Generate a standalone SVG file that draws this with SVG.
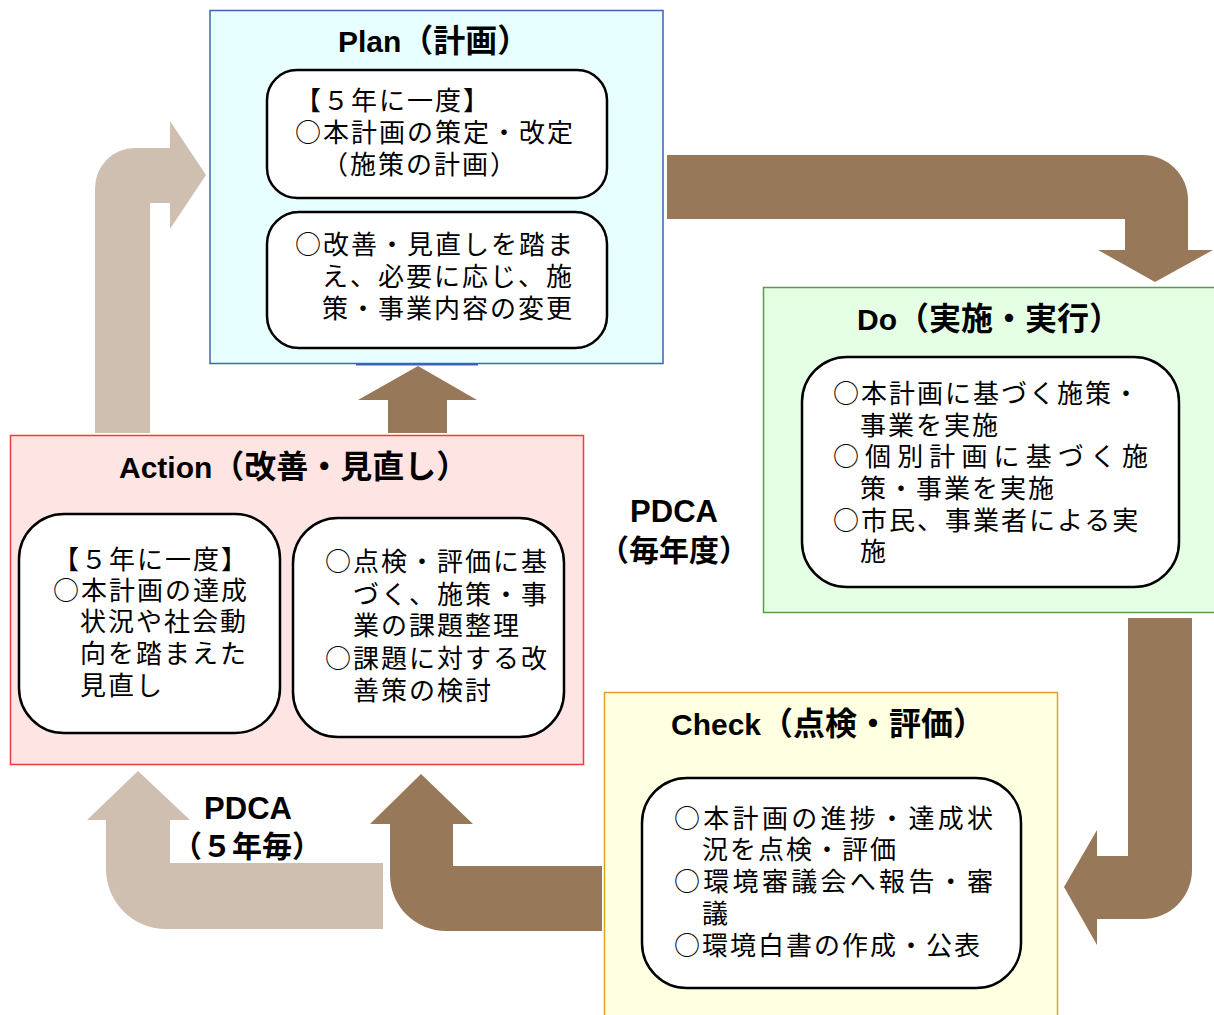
<svg xmlns="http://www.w3.org/2000/svg" width="1214" height="1015" viewBox="0 0 1214 1015">
<style>
.title{font-family:"Liberation Sans","Noto Sans CJK JP",sans-serif;font-weight:bold;font-size:30px;fill:#000}
.title .j{font-size:32px}
.lbl{font-family:"Liberation Sans","Noto Sans CJK JP",sans-serif;font-weight:bold;font-size:30px;fill:#000;text-anchor:middle}
.t{font-family:"Noto Sans CJK JP",sans-serif;font-size:26px;letter-spacing:2px;fill:#000}
.inner{fill:#fff;stroke:#000;stroke-width:2.5}
.light{fill:#cfbfb0}
.dark{fill:#977959}
</style>
<rect width="1214" height="1015" fill="#fff"/>

<g id="connectors">
  <path class="light" d="M95,433 V188 A40,40 0 0 1 135,148 H170 V121 L206,175 L170,229 V203 H150 V433 Z"/>
  <path class="dark" d="M388,433 V400 H358 L418,366 L477,400 H447 V433 Z"/>
  <path class="dark" d="M667,155 H1143 A45,45 0 0 1 1188,200 V250 H1213 L1155,282 L1098,250 H1125 V219 H667 Z"/>
  <path class="dark" d="M1128,618 H1192 V870 A49,49 0 0 1 1143,919 H1097 V945 L1064,887 L1097,830 V856 H1128 Z"/>
  <path class="dark" d="M602,866 H453 V824 H473 L421,774 L370,824 H390 V875 A56,56 0 0 0 446,931 H602 Z"/>
  <path class="light" d="M383,863 H170 V820 H190 L138,771 L87,820 H106 V869 A60,60 0 0 0 166,929 H383 Z"/>
</g>

<g id="plan">
  <rect x="210" y="10.5" width="453" height="353" fill="#e8ffff" stroke="#3b64b4" stroke-width="1.5"/>
  <line x1="356" y1="364.5" x2="478" y2="364.5" stroke="#3b64b4" stroke-width="2"/>
  <text class="title" x="338" y="52">Plan<tspan class="j">（計画）</tspan></text>
  <rect class="inner" x="267" y="70" width="340" height="128" rx="30"/>
  <text class="t" x="295" y="110">【５年に一度】</text>
  <text class="t" x="295" y="142">○本計画の策定・改定</text>
  <text class="t" x="322" y="174">（施策の計画）</text>
  <rect class="inner" x="267" y="212" width="340" height="136" rx="32"/>
  <text class="t" x="295" y="254">○改善・見直しを踏ま</text>
  <text class="t" x="322" y="286">え、必要に応じ、施</text>
  <text class="t" x="322" y="318">策・事業内容の変更</text>
</g>

<g id="do">
  <rect x="763.5" y="287.5" width="452" height="325" fill="#e5ffe5" stroke="#5b9b43" stroke-width="1.5"/>
  <text class="title" x="857" y="330">Do<tspan class="j">（実施・実行）</tspan></text>
  <rect class="inner" x="802" y="357" width="377" height="230" rx="45"/>
  <text class="t" x="833" y="403">○本計画に基づく施策・</text>
  <text class="t" x="860" y="435">事業を実施</text>
  <text class="t" x="833" y="466" textLength="317">○個別計画に基づく施</text>
  <text class="t" x="860" y="498">策・事業を実施</text>
  <text class="t" x="833" y="530">○市民、事業者による実</text>
  <text class="t" x="860" y="561">施</text>
</g>

<g id="action">
  <rect x="10.5" y="435.5" width="573" height="329" fill="#ffe4e4" stroke="#ee3b3b" stroke-width="1.5"/>
  <text class="title" x="119" y="478">Action<tspan class="j">（改善・見直し）</tspan></text>
  <rect class="inner" x="19" y="514" width="261" height="219" rx="45"/>
  <text class="t" x="53" y="569">【５年に一度】</text>
  <text class="t" x="53" y="600">○本計画の達成</text>
  <text class="t" x="80" y="631">状況や社会動</text>
  <text class="t" x="80" y="663">向を踏まえた</text>
  <text class="t" x="80" y="695">見直し</text>
  <rect class="inner" x="293" y="518" width="271" height="219" rx="45"/>
  <text class="t" x="325" y="571">○点検・評価に基</text>
  <text class="t" x="353" y="604">づく、施策・事</text>
  <text class="t" x="353" y="635">業の課題整理</text>
  <text class="t" x="325" y="668">○課題に対する改</text>
  <text class="t" x="353" y="700">善策の検討</text>
</g>

<g id="check">
  <rect x="604.5" y="692.5" width="453" height="330" fill="#ffffe2" stroke="#d9a521" stroke-width="1.5"/>
  <text class="title" x="671" y="735">Check<tspan class="j">（点検・評価）</tspan></text>
  <rect class="inner" x="642" y="778" width="379" height="210" rx="45"/>
  <text class="t" x="674" y="828" textLength="321">○本計画の進捗・達成状</text>
  <text class="t" x="702" y="859">況を点検・評価</text>
  <text class="t" x="674" y="891" textLength="321">○環境審議会へ報告・審</text>
  <text class="t" x="702" y="923">議</text>
  <text class="t" x="674" y="955">○環境白書の作成・公表</text>
</g>

<g id="pdca-yearly">
  <text class="lbl" x="674" y="522" style="font-size:31px">PDCA</text>
  <text class="lbl" x="674" y="561">（毎年度）</text>
</g>

<g id="pdca-5year">
  <text class="lbl" x="248" y="819" style="font-size:31px">PDCA</text>
  <text class="lbl" x="247" y="857">（５年毎）</text>
</g>
</svg>
